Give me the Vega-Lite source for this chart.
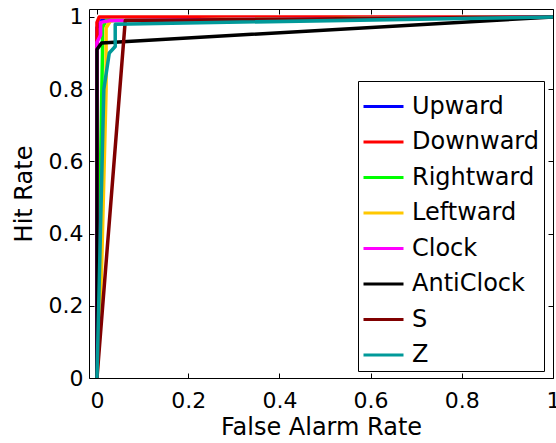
{
  "$schema": "https://vega.github.io/schema/vega-lite/v6.json",
  "width": 464,
  "height": 369,
  "autosize": {"type": "none"},
  "padding": {"left": 89, "top": 9, "right": 3, "bottom": 65},
  "background": "white",
  "config": {
    "view": {"stroke": "black", "strokeWidth": 1},
    "font": "DejaVu Sans",
    "axis": {
      "domain": false,
      "grid": false,
      "tickColor": "black",
      "tickSize": -5,
      "tickWidth": 1,
      "labelColor": "black",
      "labelFont": "DejaVu Sans",
      "labelFontSize": 22,
      "titleFont": "DejaVu Sans",
      "titleFontSize": 24,
      "titleFontWeight": "normal",
      "titleColor": "black"
    }
  },
  "data": {
    "values": [
      {"s": "Upward", "i": 0, "x": 0, "y": 0},
      {"s": "Upward", "i": 1, "x": 0, "y": 0.97},
      {"s": "Upward", "i": 2, "x": 0.01, "y": 0.99},
      {"s": "Upward", "i": 3, "x": 1, "y": 1},
      {"s": "Downward", "i": 0, "x": 0, "y": 0},
      {"s": "Downward", "i": 1, "x": 0, "y": 0.985},
      {"s": "Downward", "i": 2, "x": 0.005, "y": 1},
      {"s": "Downward", "i": 3, "x": 1, "y": 1},
      {"s": "Rightward", "i": 0, "x": 0, "y": 0},
      {"s": "Rightward", "i": 1, "x": 0.008, "y": 0.6},
      {"s": "Rightward", "i": 2, "x": 0.012, "y": 0.9},
      {"s": "Rightward", "i": 3, "x": 0.012, "y": 0.97},
      {"s": "Rightward", "i": 4, "x": 0.02, "y": 0.99},
      {"s": "Rightward", "i": 5, "x": 1, "y": 1},
      {"s": "Leftward", "i": 0, "x": 0, "y": 0},
      {"s": "Leftward", "i": 1, "x": 0.01, "y": 0.3},
      {"s": "Leftward", "i": 2, "x": 0.02, "y": 0.8},
      {"s": "Leftward", "i": 3, "x": 0.02, "y": 0.97},
      {"s": "Leftward", "i": 4, "x": 0.03, "y": 0.99},
      {"s": "Leftward", "i": 5, "x": 1, "y": 1},
      {"s": "Clock", "i": 0, "x": 0, "y": 0},
      {"s": "Clock", "i": 1, "x": 0, "y": 0.93},
      {"s": "Clock", "i": 2, "x": 0.008, "y": 0.95},
      {"s": "Clock", "i": 3, "x": 0.008, "y": 0.985},
      {"s": "Clock", "i": 4, "x": 0.03, "y": 0.99},
      {"s": "Clock", "i": 5, "x": 1, "y": 1},
      {"s": "AntiClock", "i": 0, "x": 0, "y": 0},
      {"s": "AntiClock", "i": 1, "x": 0, "y": 0.91},
      {"s": "AntiClock", "i": 2, "x": 0.01, "y": 0.928},
      {"s": "AntiClock", "i": 3, "x": 1, "y": 1},
      {"s": "S", "i": 0, "x": 0, "y": 0},
      {"s": "S", "i": 1, "x": 0.062, "y": 0.99},
      {"s": "S", "i": 2, "x": 1, "y": 1},
      {"s": "Z", "i": 0, "x": 0, "y": 0},
      {"s": "Z", "i": 1, "x": 0.015, "y": 0.8},
      {"s": "Z", "i": 2, "x": 0.027, "y": 0.9},
      {"s": "Z", "i": 3, "x": 0.04, "y": 0.918},
      {"s": "Z", "i": 4, "x": 0.04, "y": 0.98},
      {"s": "Z", "i": 5, "x": 1, "y": 1}
    ]
  },
  "layer": [
    {
      "mark": {"type": "line", "strokeWidth": 3.5, "strokeJoin": "round"},
      "encoding": {
        "x": {
          "field": "x", "type": "quantitative",
          "scale": {"domain": [-0.0175, 1], "nice": false, "zero": false},
          "axis": {"orient": "bottom", "values": [0, 0.2, 0.4, 0.6, 0.8, 1], "labelFlush": false, "labelPadding": 17, "title": "False Alarm Rate", "titlePadding": 4, "labelExpr": "datum.value == 0 ? '0' : datum.value == 1 ? '1' : datum.label"}
        },
        "y": {
          "field": "y", "type": "quantitative",
          "scale": {"domain": [0, 1.022], "nice": false},
          "axis": {"orient": "left", "values": [0, 0.2, 0.4, 0.6, 0.8, 1], "labelPadding": 11, "title": "Hit Rate", "titlePadding": 12, "labelExpr": "datum.value == 0 ? '0' : datum.value == 1 ? '1' : datum.label"}
        },
        "color": {
          "field": "s", "type": "nominal",
          "scale": {
            "domain": ["Upward", "Downward", "Rightward", "Leftward", "Clock", "AntiClock", "S", "Z"],
            "range": ["#0000FF", "#FF0000", "#00FF00", "#FFC800", "#FF00FF", "#000000", "#800000", "#009999"]
          },
          "legend": {
            "orient": "none",
            "legendX": 269,
            "legendY": 72,
            "title": null,
            "symbolType": "stroke",
            "symbolSize": 1600,
            "symbolStrokeWidth": 3,
            "labelFont": "DejaVu Sans",
            "labelFontSize": 24,
            "labelColor": "black",
            "labelOffset": 7,
            "rowPadding": 1.5,
            "strokeColor": "black",
            "fillColor": "white",
            "padding": 4,
            "labelLimit": 300
          }
        },
        "order": {"field": "i", "type": "quantitative"}
      }
    },
    {
      "mark": {"type": "point", "opacity": 0},
      "encoding": {
        "x": {"field": "x", "type": "quantitative", "axis": {"orient": "top", "values": [0, 0.2, 0.4, 0.6, 0.8, 1], "labels": false, "title": null}},
        "y": {"field": "y", "type": "quantitative", "axis": {"orient": "right", "values": [0, 0.2, 0.4, 0.6, 0.8, 1], "labels": false, "title": null}}
      }
    }
  ],
  "resolve": {"axis": {"x": "independent", "y": "independent"}}
}
